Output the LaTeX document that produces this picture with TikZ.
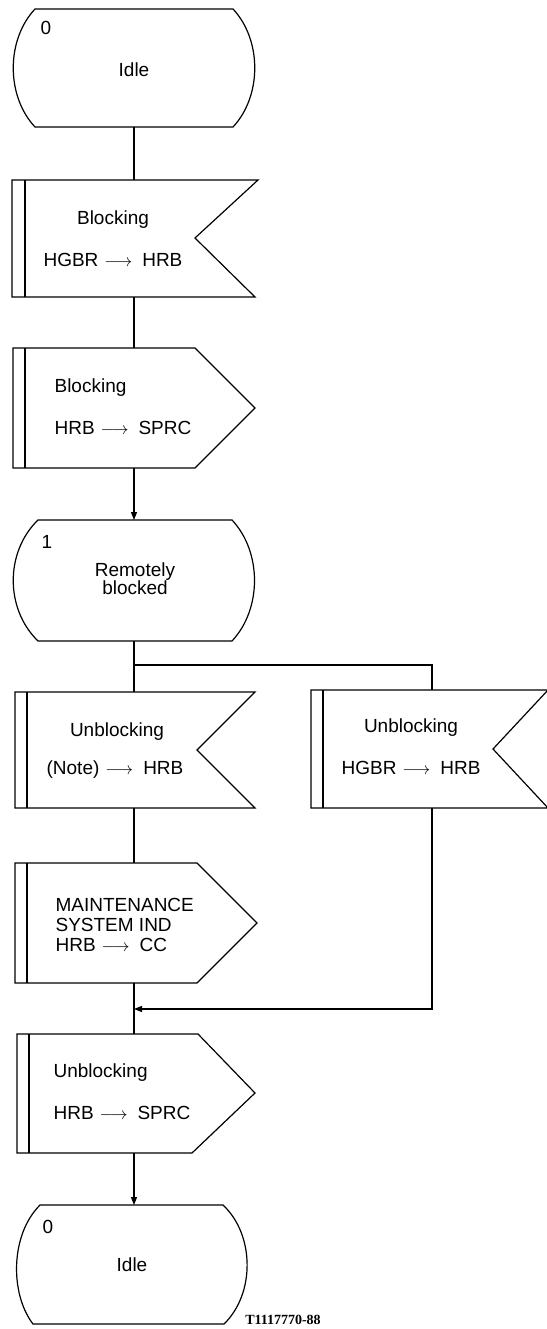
\documentclass[tikz,border=0pt]{standalone}
\usepackage{fontspec}
\setmainfont{Liberation Sans}
\newfontfamily\tagfont{Liberation Serif}
\usetikzlibrary{arrows.meta, fit}

\newcommand{\sendto}{\hspace{6pt}$\longrightarrow$\hspace{10pt}}

\begin{document}
\begin{tikzpicture}[
  x=1pt, y=-1pt,
  line width=1.2pt,
  frame/.style={inner sep=0, outer sep=0},
  txt/.style={font=\fontsize{19}{18}\selectfont, inner sep=0, align=center},
  ltxt/.style={txt, anchor=west, align=left, font=\fontsize{19}{20}\selectfont},
  arr/.style={-{Triangle[length=8pt,width=6pt]}}
]
\useasboundingbox (0,0) rectangle (546,1329);

% state 0
\draw (35,9) -- (233,9) .. controls (262,40) and (262,96) .. (233,127)
  -- (35,127) .. controls (6,96) and (6,40) .. (35,9) -- cycle;
\node[frame, fit={(12,9) (256,127)}] (idleA) {};
\node[txt] (idleAnum) at (46,28) {0};
\node[txt] (idleAtxt) at (134,70) {Idle};

% input: blocking
\draw (12,180) -- (258,180) -- (195,238) -- (255,297) -- (12,297) -- cycle;
\draw (25,180) -- (25,297);
\node[frame, fit={(12,180) (256,297)}] (blkIn) {};
\node[txt] (blkInA) at (113,220) {Blocking};
\node[txt] (blkInB) at (113,260) {HGBR\sendto HRB};

% output: blocking
\draw (13,348) -- (195,348) -- (255,408) -- (195,468) -- (13,468) -- cycle;
\draw (25,348) -- (25,468);
\node[frame, fit={(13,348) (255,468)}] (blkOut) {};
\node[ltxt] (blkOutA) at (54,388) {Blocking};
\node[ltxt] (blkOutB) at (54,428) {HRB\sendto SPRC};

% state 1
\draw (38,520) -- (232,520) .. controls (262,552) and (262,609) .. (232,641)
  -- (38,641) .. controls (5,609) and (5,552) .. (38,520) -- cycle;
\node[frame, fit={(13,520) (255,641)}] (remBlk) {};
\node[txt] (remBlkNum) at (47,542) {1};
\node[txt] (remBlkTxt) at (135,579) {Remotely\\blocked};

% input: unblocking (note)
\draw (15,692) -- (255,692) -- (197,750) -- (255,808) -- (15,808) -- cycle;
\draw (27,692) -- (27,808);
\node[frame, fit={(15,692) (253,808)}] (unbIn) {};
\node[txt] (unbInA) at (117,732) {Unblocking};
\node[txt] (unbInB) at (115,770) {(Note)\sendto HRB};

% input: unblocking HGBR
\draw (311,690) -- (548,690) -- (493,749) -- (548,808) -- (311,808) -- cycle;
\draw (323,690) -- (323,808);
\node[frame, fit={(311,690) (553,808)}] (unbInR) {};
\node[txt] (unbInRA) at (411,728) {Unblocking};
\node[txt] (unbInRB) at (411,768) {HGBR\sendto HRB};

% output: maintenance system
\draw (15,863) -- (197,863) -- (257,923) -- (197,983) -- (15,983) -- cycle;
\draw (27,863) -- (27,983);
\node[frame, fit={(15,863) (253,983)}] (maint) {};
\node[ltxt] (maintTxt) at (55,925) {MAINTENANCE\\SYSTEM IND\\HRB\sendto CC};

% output: unblocking
\draw (17,1034) -- (198,1034) -- (255,1093) -- (192,1153) -- (17,1153) -- cycle;
\draw (29,1034) -- (29,1153);
\node[frame, fit={(17,1034) (251,1153)}] (unbOut) {};
\node[ltxt] (unbOutA) at (53,1073) {Unblocking};
\node[ltxt] (unbOutB) at (53,1113) {HRB\sendto SPRC};

% state 0 again
\draw (40,1205) -- (223,1205) .. controls (255,1235) and (255,1294) .. (224,1324)
  -- (33,1324) .. controls (10,1294) and (10,1235) .. (40,1205) -- cycle;
\node[frame, fit={(17,1205) (247,1324)}] (idleB) {};
\node[txt] (idleBnum) at (48,1227) {0};
\node[txt] (idleBtxt) at (132,1265) {Idle};

\node[font=\tagfont\bfseries\fontsize{14}{16}\selectfont, inner sep=0] (tag) at (283,1320) {T1117770-88};

% connectors
\coordinate (fork) at (134,665);
\coordinate (merge) at (134,1009);
\draw (idleA.south) -- (blkIn.north);
\draw (blkIn.south) -- (blkOut.north);
\draw[arr] (blkOut.south) -- (remBlk.north);
\draw (remBlk.south) -- (unbIn.north);
\draw (fork) -| (unbInR.north);
\draw (unbIn.south) -- (maint.north);
\draw (maint.south) -- (unbOut.north);
\draw[arr] (unbInR.south) |- (merge);
\draw[arr] (unbOut.south) -- (unbOut.south |- idleB.north);
\end{tikzpicture}
\end{document}
